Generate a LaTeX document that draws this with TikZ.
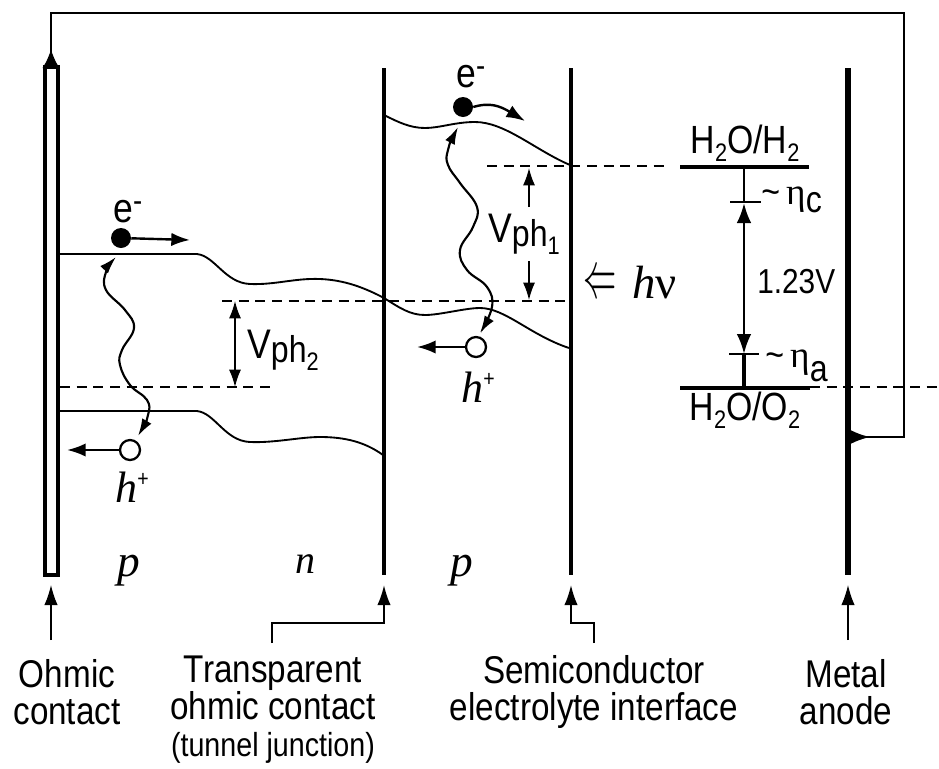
\documentclass[tikz,border=0pt]{standalone}
\usepackage{fontspec}
\setmainfont[FakeStretch=0.86]{Liberation Sans}
\newfontfamily\tfont{Liberation Serif}
\usetikzlibrary{arrows.meta}
\newcommand{\fs}[2]{\fontsize{#1}{#2}\selectfont}
\newcommand{\subs}[1]{\raisebox{-6pt}{\fs{19}{19}#1}}
\tikzset{
  metal/.style={line width=3pt},
  band/.style={line width=1.4pt},
  dashlevel/.style={line width=1.2pt,dash pattern=on 7.5pt off 5pt},
  level/.style={line width=2.6pt},
  wave/.style={line width=1.6pt,smooth,tension=0.7,{Latex[length=13pt,width=8pt]}-{Latex[length=13pt,width=8pt]}},
  pointer/.style={line width=1pt,-{Latex[length=15pt,width=10pt]}},
  carrier/.style={line width=1.8pt,-{Latex[length=14pt,width=10pt]}},
  dimline/.style={line width=1.1pt,-{Latex[length=13pt,width=9pt]}},
  lab/.style={font=\fs{29}{27.8},align=center,inner sep=0},
  txt/.style={font=\fs{28}{30},inner sep=0,anchor=base},
  ital/.style={font=\fs{33}{33}\tfont\itshape,inner sep=0,anchor=base},
  electron/.style={circle,fill=black,inner sep=0,minimum size=15pt},
  hole/.style={circle,draw,fill=white,line width=1.7pt,inner sep=0,minimum size=15pt},
}
\begin{document}
\begin{tikzpicture}[x=0.75pt,y=-0.75pt]
\useasboundingbox (0,0) rectangle (939,768);
% dashed levels
\draw[dashlevel] (60,387) -- (272,387);
\draw[dashlevel] (222,301) -- (570,301);
\draw[dashlevel] (487,166) -- (668,166);
\draw[dashlevel] (810,387) -- (939,387);
% contacts
\node[draw,line width=3.3pt,minimum width=9.5pt,minimum height=381pt,inner sep=0,fill=white] (ohm) at (51.5,321) {};
\coordinate (tjT) at (384,68); \coordinate (tjB) at (384,575);
\coordinate (scT) at (571,68); \coordinate (scB) at (571,575);
\coordinate (anT) at (848,68); \coordinate (anB) at (848,575);
\draw[metal] (tjT) -- (tjB);
\draw[metal] (scT) -- (scB);
\draw[line width=4.6pt] (anT) -- (anB);
% external wire
\coordinate (anW) at (850,437);
\coordinate (wireA) at (904,437);
\coordinate (wireB) at (904,13);
\coordinate (wireC) at (51,13);
\coordinate (ohmT) at (51,68);
\draw[line width=1.8pt,{Latex[reversed,length=15pt,width=11pt]}-{Latex[reversed,length=14pt,width=13pt]}] (anW) -- (wireA) -- (wireB) -- (wireC) -- (ohmT);
% bands
\draw[band] (60,254) -- (197,254) .. controls (215,256) and (225,283) .. (250,284) .. controls (275,285) and (295,278) .. (320,279) .. controls (345,280) and (365,288) .. (384,298) .. controls (400,308) and (410,315) .. (425,315) .. controls (440,315) and (465,308) .. (480,308) .. controls (505,308) and (530,335) .. (569,348);
\draw[band] (60,411) -- (197,411) .. controls (215,413) and (225,441) .. (250,442) .. controls (275,443) and (300,437) .. (320,437) .. controls (345,437) and (365,442) .. (383,455);
\draw[band] (384,115) .. controls (398,122) and (410,128) .. (425,128) .. controls (440,128) and (455,122) .. (475,122) .. controls (505,122) and (535,150) .. (570,165);
% photons
\draw[wave] plot coordinates {(138,436) (148,415) (147,400) (130,385) (120,365) (122,350) (134,328) (125,310) (106,290) (106,272) (116,257)};
\draw[wave] plot coordinates {(458,127) (448,150) (448,165) (460,183) (477,207) (473,227) (460,250) (467,270) (487,287) (492,307) (480,333)};
% carriers
\node[electron] (e1) at (121,238) {};
\coordinate (e1a) at (190,240);
\draw[carrier] (e1) -- (e1a);
\node[electron] (e2) at (463,107) {};
\coordinate (e2a) at (525,121);
\draw[carrier] (e2.east) .. controls (490,102) and (500,106) .. (e2a);
\node[hole] (h1) at (130,450) {};
\coordinate (h1a) at (67,450);
\draw[carrier] (h1) -- (h1a);
\node[hole] (h2) at (476,347) {};
\coordinate (h2a) at (417,347);
\draw[carrier] (h2) -- (h2a);
% voltage arrows
\coordinate (v2t) at (235,301); \coordinate (v2b) at (235,387);
\draw[dimline,{Latex[length=13pt,width=9pt]}-{Latex[length=13pt,width=9pt]}] (v2t) -- (v2b);
\coordinate (v1a) at (529,207); \coordinate (v1b) at (529,168);
\draw[dimline] (v1a) -- (v1b);
\coordinate (v1c) at (529,261); \coordinate (v1d) at (529,300);
\draw[dimline] (v1c) -- (v1d);
% redox levels
\coordinate (oxL) at (680,167); \coordinate (oxR) at (809,167);
\coordinate (reL) at (680,388); \coordinate (reR) at (810,388);
\draw[level] (oxL) -- (oxR);
\draw[level] (reL) -- (reR);
\coordinate (m1) at (744,167); \coordinate (m2) at (744,388);
\coordinate (t1) at (744,203); \coordinate (t2) at (744,354);
\draw[line width=2pt] (m1) -- (t1);
\draw[line width=2.4pt] (t2) -- (m2);
\draw[line width=2pt,{Latex[length=15pt,width=11pt]}-{Latex[length=15pt,width=11pt]}] (t1) -- (t2);
\coordinate (t1a) at (730,202); \coordinate (t1b) at (761,202);
\coordinate (t2a) at (729,354); \coordinate (t2b) at (759,354);
\draw[line width=1.2pt] (t1a) -- (t1b);
\draw[line width=1.8pt] (t2a) -- (t2b);
% pointers
\coordinate (pa0) at (51,640); \coordinate (pa1) at (51,585);
\draw[pointer] (pa0) -- (pa1);
\coordinate (pb0) at (272,643); \coordinate (pb1) at (272,623); \coordinate (pb2) at (384,623); \coordinate (pb3) at (384,585);
\draw[pointer,line width=1.5pt] (pb0) -- (pb1) -- (pb2) -- (pb3);
\coordinate (pc0) at (594,643); \coordinate (pc1) at (594,623); \coordinate (pc2) at (571,623); \coordinate (pc3) at (571,585);
\draw[pointer,line width=1.4pt] (pc0) -- (pc1) -- (pc2) -- (pc3);
\coordinate (pd0) at (848,640); \coordinate (pd1) at (848,585);
\draw[pointer] (pd0) -- (pd1);
% text
\node[txt,anchor=base west,font=\fs{31}{30}] (te1) at (113,222) {e\raisebox{8pt}{\fs{24}{24}-}};
\node[txt,anchor=base west,font=\fs{31}{30}] (te2) at (456,87) {e\raisebox{8pt}{\fs{24}{24}-}};
\node[ital] (th1) at (132,502) {h\raisebox{12pt}{\fs{17}{17}\normalfont +}};
\node[ital] (th2) at (478,402) {h\raisebox{12pt}{\fs{17}{17}\normalfont +}};
\node[ital,font=\fs{34}{34}\tfont\itshape] (tp1) at (129,576) {p};
\node[ital,font=\fs{30}{30}\tfont\itshape] (tn) at (305,573) {n};
\node[ital,font=\fs{34}{34}\tfont\itshape] (tp2) at (462,576) {p};
\node[txt,anchor=base west,font=\fs{31}{30}] (tv2) at (247,358) {V\raisebox{-3pt}{\fs{28}{28}ph}\raisebox{-9pt}{\fs{19}{19}2}};
\node[txt,anchor=base west,font=\fs{31}{30}] (tv1) at (488,242) {V\raisebox{-3pt}{\fs{28}{28}ph}\raisebox{-9pt}{\fs{19}{19}1}};
\node[inner sep=0] (tarr) at (600,285) {\scalebox{1.0}[2.0]{\fs{24}{24}$\Leftarrow$}};
\node[ital,anchor=base west,font=\fs{35}{35}\tfont\itshape] (thv) at (632,298) {h{\upshape ν}};
\node[txt,font=\fs{29.5}{30}] (tre) at (745,153) {H\subs{2}O/H\subs{2}};
\node[txt,font=\fs{29.5}{30}] (tox) at (745,420) {H\subs{2}O/O\subs{2}};
\node[txt,anchor=base west] (teta1) at (761,204) {\textasciitilde\,{\tfont η}\raisebox{-6.5pt}{c}};
\node[txt,anchor=base west] (teta2) at (765,367) {\textasciitilde\,{\tfont η}\raisebox{-11pt}{a}};
\node[txt,anchor=base west,font=\fs{26}{30}] (t123) at (757,293) {1.23V};
\node[lab] (l1) at (67,692) {Ohmic\\contact};
\node[lab] (l2) at (273,710) {Transparent\\ohmic contact\\{\fs{25}{27.8}(tunnel junction)}};
\node[lab] (l3) at (594,692) {Semiconductor\\electrolyte interface};
\node[lab] (l4) at (846,692) {Metal\\anode};
\end{tikzpicture}
\end{document}
